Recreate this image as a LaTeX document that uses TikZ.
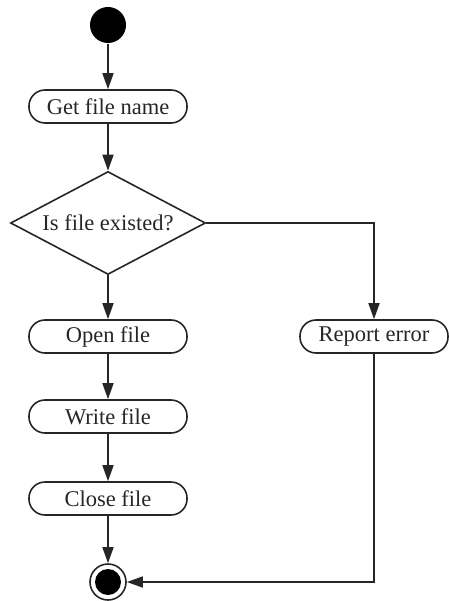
\documentclass[tikz,border=0pt]{standalone}
\usepackage{fontspec}
\setmainfont{Liberation Serif}
\usetikzlibrary{arrows.meta,shapes.geometric}
\begin{document}
\begin{tikzpicture}[x=1pt,y=-1pt,
  line width=1.6pt, draw=black!85,
  act/.style={draw, rounded corners=16pt, minimum width=158pt, minimum height=33pt, inner sep=0pt, font=\fontsize{22.5}{26}\selectfont, text=black!85},
  dec/.style={draw, diamond, aspect=1.9, minimum width=195pt, minimum height=103pt, inner sep=0pt, font=\fontsize{22.5}{26}\selectfont, text=black!85},
  flow/.style={-{Triangle[length=16pt,width=11pt]}}]
\useasboundingbox (0,0) rectangle (448,601);
\node[circle, fill=black, minimum size=36pt, inner sep=0pt] (start) at (108,25) {};
\node[act] (get) at (108,106.5) {Get file name};
\node[dec] (isf) at (108,223) {Is file existed?};
\node[act] (open) at (108,336.5) {Open file};
\node[act, minimum width=148pt] (rep) at (374,336.5) {Report error};
\node[act] (write) at (108,416.5) {Write file};
\node[act] (close) at (108,498.5) {Close file};
\node[circle, draw, minimum size=36pt, inner sep=0pt] (end) at (108,582) {};
\node[circle, fill=black, minimum size=26pt, inner sep=0pt] (endin) at (end) {};
\draw[flow] (start) -- (get);
\draw[flow] (get) -- (isf);
\draw[flow] (isf) -- (open);
\draw[flow] (isf.east) -| (rep.north);
\draw[flow] (open) -- (write);
\draw[flow] (write) -- (close);
\draw[flow] (close) -- (end);
\draw[flow] (rep.south) |- (end.east);
\end{tikzpicture}
\end{document}
